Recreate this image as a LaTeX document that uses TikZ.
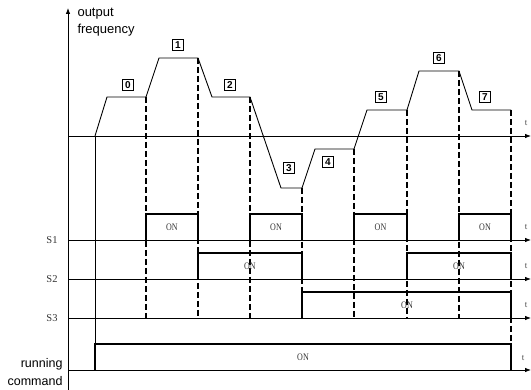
\documentclass[tikz,border=0pt]{standalone}
\usepackage{fontspec}
\setmainfont{Liberation Serif}
\setsansfont{Liberation Sans}
\usetikzlibrary{arrows.meta}
\tikzset{
  axisline/.style={line width=0.8pt, -{Latex[length=6pt,width=4.5pt]}},
  wave/.style={line width=0.9pt, line join=miter},
  pulse/.style={line width=1.6pt, line join=miter},
  dashline/.style={line width=1.4pt, dash pattern=on 6pt off 3pt},
  stepnum/.style={draw, line width=0.8pt, inner sep=0pt, minimum size=11.5pt, font=\sffamily\bfseries\fontsize{10}{10}\selectfont},
  onlabel/.style={font=\fontsize{10}{10}\selectfont, text=black!80},
  siglabel/.style={font=\fontsize{10.5}{11}\selectfont, text=black!80},
  tlabel/.style={font=\fontsize{9}{9}\selectfont, text=black!70},
  sanslabel/.style={font=\sffamily\fontsize{13}{13}\selectfont},
}
\newcommand{\onl}{\scalebox{0.8}[1]{ON}}
\begin{document}
\begin{tikzpicture}[x=1pt,y=-1pt]
\useasboundingbox (0,0) rectangle (531,390);
% axes
\draw[axisline] (68,390) -- (68,8);
\draw[axisline] (68,136) -- (531,136);
\draw[axisline] (68,240) -- (531,240);
\draw[axisline] (68,279) -- (531,279);
\draw[axisline] (68,318) -- (531,318);
\draw[axisline] (68,370) -- (531,370);
% labels
\node[sanslabel, anchor=west] (yl1) at (74,14) {output};
\node[sanslabel, anchor=west] (yl2) at (74,30) {frequency};
\node[sanslabel, anchor=east, font=\sffamily\fontsize{12.5}{12.5}\selectfont] (rc1) at (66,364) {running};
\node[sanslabel, anchor=east, font=\sffamily\fontsize{12.5}{12.5}\selectfont] (rc2) at (66,381) {command};
\node[siglabel] (s1) at (52,240) {S1};
\node[siglabel] (s2) at (52,279) {S2};
\node[siglabel] (s3) at (52,318) {S3};
\node[tlabel] (t0) at (526,123) {t};
\node[tlabel] (t1) at (526,227) {t};
\node[tlabel] (t2) at (526,266) {t};
\node[tlabel] (t3) at (526,305) {t};
\node[tlabel] (t4) at (523,358) {t};
% frequency profile
\draw[wave] (95,136) -- (107,97) -- (146,97) -- (159,58) -- (198,58) -- (212,97)
  -- (250,97) -- (281,188) -- (302,188) -- (315,149) -- (354,149) -- (367,110)
  -- (407,110) -- (419,71) -- (459,71) -- (472,110) -- (511,110);
\draw[line width=0.9pt] (95,136) -- (95,344);
% dashed verticals
\draw[dashline] (146,97) -- (146,318);
\draw[dashline] (198,58) -- (198,318);
\draw[dashline] (250,97) -- (250,318);
\draw[dashline] (302,188) -- (302,318);
\draw[dashline] (354,149) -- (354,318);
\draw[dashline] (407,110) -- (407,318);
\draw[dashline] (459,71) -- (459,318);
\draw[dashline] (511,110) -- (511,344);
% step numbers
\node[stepnum] (n0) at (128,85) {0};
\node[stepnum] (n1) at (178,45) {1};
\node[stepnum] (n2) at (230,85) {2};
\node[stepnum] (n3) at (289,168) {3};
\node[stepnum] (n4) at (328,162) {4};
\node[stepnum] (n5) at (381,97) {5};
\node[stepnum] (n6) at (439,58) {6};
\node[stepnum] (n7) at (485,97) {7};
% S1 pulses
\foreach \a/\b in {146/198, 250/302, 354/407, 459/511} {
  \draw[pulse] (\a,240) -- (\a,214) -- (\b,214) -- (\b,240);
  \node[onlabel] at ({(\a+\b)/2},227) {\onl};
}
% S2 pulses
\foreach \a/\b in {198/302, 407/511} {
  \draw[pulse] (\a,279) -- (\a,253) -- (\b,253) -- (\b,279);
  \node[onlabel] at ({(\a+\b)/2},266) {\onl};
}
% S3 pulse
\draw[pulse] (302,318) -- (302,292) -- (511,292) -- (511,318);
\node[onlabel] (on3) at (407,305) {\onl};
% running command pulse
\draw[pulse] (95,370) -- (95,344) -- (511,344) -- (511,370);
\node[onlabel] (onr) at (303,357) {\onl};
\end{tikzpicture}
\end{document}
